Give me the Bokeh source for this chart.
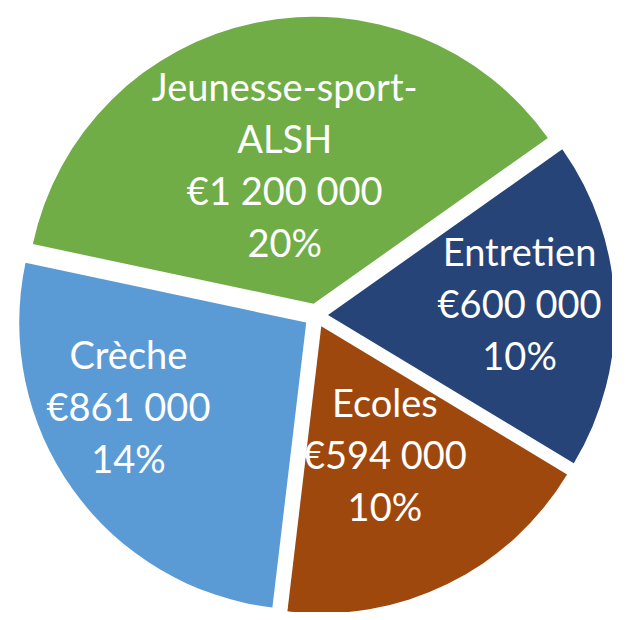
import math
from bokeh.plotting import figure
from bokeh.models import Range1d
from bokeh.core.properties import value
from bokeh.embed import file_html
from bokeh.resources import INLINE

# ---- data ----
categories = ["Jeunesse-sport-ALSH", "Entretien", "Ecoles", "Crèche"]
amounts = [1200000, 600000, 594000, 861000]
percent_labels = ["20%", "10%", "10%", "14%"]
colors = ["#70AD47", "#264478", "#9E480E", "#5B9BD5"]

# ---- layout (pixels; y axis points up, origin at page top-left) ----
W, H = 612, 612
cx, cy = 315.5, -315.0
R = 287.0
explode = 12.0
first_edge_deg = 168.0          # counter-clockwise edge of first slice, slices go clockwise
label_r = [155, 204, 154, 208]  # label distance from centre
label_dang = [0.0, 1.6, 0.5, -10.0]
text_nudge = 13.0
font = "Lato"
fsize = 38
cap = 0.70 * fsize
line_gap = 52

p = figure(width=W, height=H, output_backend="svg", toolbar_location=None,
           x_range=Range1d(0, W), y_range=Range1d(-H, 0),
           min_border=0, outline_line_color=None, background_fill_color="white",
           border_fill_color="white")
p.axis.visible = False
p.grid.visible = False

total = sum(amounts)
edge = first_edge_deg
for i, (cat, amt, pct, col) in enumerate(zip(categories, amounts, percent_labels, colors)):
    span = 360.0 * amt / total
    end = edge
    start = edge - span
    mid = math.radians((start + end) / 2)
    ox = cx + explode * math.cos(mid)
    oy = cy + explode * math.sin(mid)
    p.wedge(x=[ox], y=[oy], radius=R, start_angle=[math.radians(start)],
            end_angle=[math.radians(end)], fill_color=col, line_color=None)
    # label
    if len(cat) > 12 and "-" in cat:
        k = cat.rfind("-")
        lines = [cat[:k + 1], cat[k + 1:]]
    else:
        lines = [cat]
    lines += ["€" + f"{amt:,}".replace(",", " "), pct]
    la = mid + math.radians(label_dang[i])
    ax = cx + label_r[i] * math.cos(la)
    ay = cy + label_r[i] * math.sin(la) + text_nudge
    n = len(lines)
    block = cap + (n - 1) * line_gap
    top = ay + block / 2
    xs = [ax] * n
    ys = [top - cap - j * line_gap for j in range(n)]
    p.text(x=xs, y=ys, text=lines, text_color="white", text_font=value(font),
           text_font_size=f"{fsize}px", text_align="center", text_baseline="alphabetic")
    edge = start

open("out.html", "w").write(file_html(p, INLINE))
